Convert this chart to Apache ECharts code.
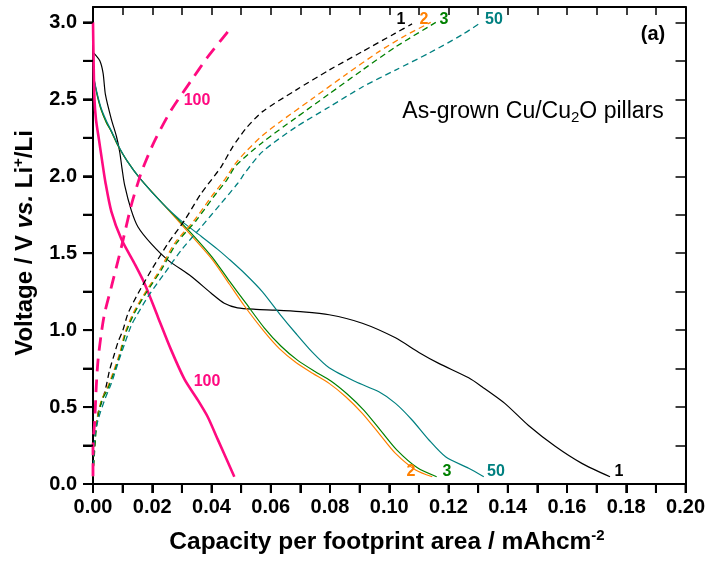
<!DOCTYPE html>
<html>
<head>
<meta charset="utf-8">
<script src="https://cdn.jsdelivr.net/npm/echarts@6/dist/echarts.min.js"></script>
<style>
html,body{margin:0;padding:0;background:#fff;}
#chart{width:708px;height:565px;}
</style>
</head>
<body>
<div id="chart"></div>
<script>
// ---- data (capacity mAh/cm2, voltage V) ----
const dis1 = [[0.0003,2.80],[0.0023,2.75],[0.0034,2.67],[0.0042,2.53],[0.0062,2.37],[0.0079,2.26],[0.009,2.16],[0.0098,2.05],[0.0107,1.94],[0.0129,1.78],[0.0152,1.67],[0.0197,1.56],[0.0253,1.455],[0.0331,1.35],[0.0399,1.24],[0.0443,1.175],[0.0488,1.145],[0.055,1.135],[0.0617,1.13],[0.07,1.12],[0.0797,1.10],[0.0909,1.045],[0.1021,0.95],[0.11,0.855],[0.1167,0.784],[0.1268,0.69],[0.1313,0.632],[0.139,0.524],[0.147,0.38],[0.156,0.245],[0.165,0.134],[0.1745,0.047]];
const dis2 = [[0.0005,2.61],[0.0015,2.52],[0.0028,2.43],[0.0045,2.35],[0.0062,2.29],[0.0084,2.20],[0.0115,2.10],[0.0157,1.99],[0.0236,1.82],[0.0292,1.70],[0.0348,1.58],[0.0404,1.455],[0.046,1.30],[0.051,1.16],[0.0578,0.99],[0.0629,0.88],[0.0685,0.79],[0.0741,0.72],[0.0797,0.654],[0.0853,0.567],[0.0909,0.459],[0.0965,0.329],[0.1021,0.199],[0.1089,0.091],[0.1145,0.047]];
const dis3 = [[0.0005,2.61],[0.0015,2.52],[0.0028,2.43],[0.0045,2.35],[0.0062,2.29],[0.0084,2.20],[0.0115,2.10],[0.0157,1.99],[0.0236,1.82],[0.0292,1.71],[0.0348,1.595],[0.0404,1.47],[0.046,1.32],[0.0516,1.175],[0.0578,1.015],[0.0635,0.895],[0.069,0.805],[0.0746,0.735],[0.0803,0.67],[0.0858,0.585],[0.0914,0.48],[0.097,0.35],[0.1026,0.22],[0.1095,0.105],[0.116,0.047]];
const dis50 = [[0.0005,2.62],[0.0015,2.53],[0.0028,2.44],[0.0045,2.36],[0.0062,2.295],[0.0084,2.205],[0.0115,2.10],[0.0157,1.99],[0.0236,1.82],[0.0298,1.71],[0.0365,1.61],[0.0421,1.525],[0.046,1.46],[0.0514,1.365],[0.0572,1.249],[0.0629,1.108],[0.0685,0.978],[0.0741,0.855],[0.0797,0.755],[0.0887,0.664],[0.0965,0.599],[0.1021,0.524],[0.1077,0.416],[0.1134,0.286],[0.119,0.177],[0.1268,0.102],[0.1319,0.047]];
const dis100 = [[0,3.0],[0.0002,2.75],[0.0005,2.5],[0.001,2.37],[0.002,2.24],[0.003,2.11],[0.0042,1.96],[0.0062,1.77],[0.0096,1.59],[0.014,1.433],[0.0174,1.303],[0.0219,1.086],[0.0264,0.87],[0.0309,0.68],[0.0354,0.545],[0.0387,0.437],[0.0421,0.29],[0.0477,0.047]];
const chg1 = [[0,0.05],[0.0003,0.2],[0.0008,0.33],[0.0017,0.46],[0.0034,0.56],[0.0045,0.64],[0.0056,0.74],[0.0073,0.85],[0.0084,0.92],[0.0101,1.0],[0.0118,1.108],[0.0152,1.238],[0.0197,1.39],[0.0253,1.563],[0.0309,1.714],[0.0365,1.888],[0.0432,2.06],[0.0471,2.19],[0.0516,2.31],[0.0572,2.42],[0.0685,2.56],[0.0797,2.69],[0.0909,2.81],[0.1021,2.93],[0.1077,2.99]];
const chg2 = [[0,0.05],[0.0004,0.2],[0.0011,0.39],[0.0028,0.545],[0.0045,0.61],[0.0067,0.72],[0.009,0.85],[0.0107,0.978],[0.0135,1.108],[0.0174,1.238],[0.0225,1.39],[0.0275,1.563],[0.0342,1.714],[0.0399,1.866],[0.0443,1.974],[0.048,2.08],[0.0516,2.16],[0.0572,2.265],[0.0629,2.35],[0.0741,2.505],[0.0853,2.66],[0.0965,2.81],[0.1055,2.915],[0.114,3.0]];
const chg3 = [[0,0.05],[0.0005,0.2],[0.0013,0.39],[0.003,0.545],[0.0048,0.61],[0.007,0.72],[0.0093,0.85],[0.011,0.978],[0.0139,1.108],[0.0178,1.238],[0.023,1.39],[0.0281,1.563],[0.0349,1.714],[0.0407,1.866],[0.0451,1.974],[0.0483,2.07],[0.0572,2.22],[0.0685,2.38],[0.0797,2.535],[0.0909,2.69],[0.1021,2.84],[0.1157,3.0]];
const chg50 = [[0,0.05],[0.0006,0.307],[0.0017,0.416],[0.0039,0.545],[0.0062,0.654],[0.0084,0.784],[0.0107,0.913],[0.0129,1.03],[0.0146,1.09],[0.0185,1.216],[0.0241,1.368],[0.0298,1.52],[0.0365,1.67],[0.0432,1.823],[0.0488,1.953],[0.0516,2.03],[0.0572,2.16],[0.0685,2.32],[0.0797,2.45],[0.0909,2.58],[0.1021,2.69],[0.1134,2.80],[0.1246,2.92],[0.131,3.0]];
const chg100 = [[0,0.05],[0,0.24],[0.0006,0.416],[0.0011,0.632],[0.0017,0.805],[0.0028,0.978],[0.0039,1.108],[0.0062,1.281],[0.0096,1.541],[0.0129,1.81],[0.0157,1.99],[0.0174,2.08],[0.0208,2.23],[0.0264,2.43],[0.0331,2.62],[0.0387,2.775],[0.0455,2.94],[0.0465,2.97]];
const cycleNames = ['1','2','3','50','100'];
const xTicks = [0,0.02,0.04,0.06,0.08,0.10,0.12,0.14,0.16,0.18,0.20];
const yTicks = [0.0,0.5,1.0,1.5,2.0,2.5,3.0];
const xTickMarks = [0,0.01,0.02,0.03,0.04,0.05,0.06,0.07,0.08,0.09,0.10,0.11,0.12,0.13,0.14,0.15,0.16,0.17,0.18,0.19,0.20];
const yTickMarks = [0,0.25,0.5,0.75,1.0,1.25,1.5,1.75,2.0,2.25,2.5,2.75,3.0];

const colors = {'1':'#000000','2':'#ff8000','3':'#008000','50':'#008080','100':'#ff0a80'};
const FF = '"Liberation Sans", Arial, sans-serif';

function dline(name, data, color, width){
  return {type:'line', name, data, showSymbol:false, smooth:0.25,
    lineStyle:{color, width, type:'solid'}, animation:false};
}
function cline(name, data, color, width, dash){
  return {type:'line', name, data, showSymbol:false, smooth:0.25,
    lineStyle:{color, width, type:dash}, animation:false};
}

const chart = echarts.init(document.getElementById('chart'), null, {renderer:'canvas'});
function ax(extra){
  return Object.assign({type:'value', splitLine:{show:false}, splitArea:{show:false},
    axisLine:{show:true, onZero:false, lineStyle:{color:'#000', width:2}}}, extra);
}
const xLabelFmt = function(v){const k=Math.round(v*100); return (k%2===0 && xTicks.indexOf(k/100)>=0)? (k/100).toFixed(2):'';};
const yLabelFmt = function(v){const k=Math.round(v*100); return (k%50===0 && yTicks.indexOf(k/100)>=0)? (k/100).toFixed(1):'';};
const tickStyle = {width:1.5, color:'#000'};
function txt(x, y, text, color){
  return {type:'text', x, y, z:100, style:{text, font:'bold 16px '+FF, fill:color, align:'center', verticalAlign:'middle'}};
}
const graphics = [
    {type:'text', x:25, y:243, rotation:Math.PI/2, style:{
      text:'{b|Voltage / V }{i|vs.}{b| Li}{s|+}{b|/Li}', align:'center', verticalAlign:'middle',
      rich:{b:{fontSize:24, fontWeight:'bold', fontFamily:FF, fill:'#000', lineHeight:28},
            i:{fontSize:24, fontWeight:'bold', fontStyle:'italic', fontFamily:FF, fill:'#000', lineHeight:28},
            s:{fontSize:15, fontWeight:'bold', fontFamily:FF, fill:'#000', lineHeight:28, verticalAlign:'top', padding:[0,0,12,0]}}}},
    {type:'text', x:387, y:542, style:{
      text:'{b|Capacity per footprint area / mAhcm}{s|-2}', align:'center', verticalAlign:'middle',
      rich:{b:{fontSize:24.5, fontWeight:'bold', fontFamily:FF, fill:'#000', lineHeight:28},
            s:{fontSize:15, fontWeight:'bold', fontFamily:FF, fill:'#000', lineHeight:28, padding:[0,0,12,0]}}}},
    {type:'text', x:653, y:34, style:{text:'(a)', font:'bold 20px '+FF, fill:'#000', align:'center', verticalAlign:'middle'}},
    {type:'text', x:533, y:112, style:{
      text:'{n|As-grown Cu/Cu}{s|2}{n|O pillars}', align:'center', verticalAlign:'middle',
      rich:{n:{fontSize:23, fontFamily:FF, fill:'#000', lineHeight:26},
            s:{fontSize:15, fontFamily:FF, fill:'#000', lineHeight:26, padding:[12,0,0,0]}}}},
    txt(401, 20, cycleNames[0], colors['1']),
    txt(424, 20, cycleNames[1], colors['2']),
    txt(444, 20, cycleNames[2], colors['3']),
    txt(494, 20, cycleNames[3], colors['50']),
    txt(411, 472, cycleNames[1], colors['2']),
    txt(447, 472, cycleNames[2], colors['3']),
    txt(496, 472, cycleNames[3], colors['50']),
    txt(619, 472, cycleNames[0], colors['1']),
    txt(207, 382, cycleNames[4], colors['100']),
    txt(197, 101, cycleNames[4], colors['100'])
];
const option = {
  animation:false,
  backgroundColor:'#fff',
  grid:{left:93, right:21, top:7, bottom:81, containLabel:false},
  xAxis:[
    ax({position:'bottom', min:0, max:0.2, interval:0.01,
      axisTick:{show:true, inside:false, length:9, lineStyle:{width:2, color:'#000'}},
      axisLabel:{show:true, margin:13, color:'#000', fontSize:20, fontWeight:'bold', fontFamily:FF, formatter:xLabelFmt}}),
    ax({position:'top', min:0, max:0.2, interval:0.01,
      axisTick:{show:true, inside:true, length:8, lineStyle:tickStyle}, axisLabel:{show:false}})
  ],
  yAxis:[
    ax({position:'left', min:0, max:3.1, interval:0.25,
      axisTick:{show:true, inside:false, length:10, lineStyle:{width:2, color:'#000'}},
      axisLabel:{show:true, margin:16, color:'#000', fontSize:20, fontWeight:'bold', fontFamily:FF, showMaxLabel:false, formatter:yLabelFmt}}),
    ax({position:'right', min:0, max:3.1, interval:0.25,
      axisTick:{show:true, inside:true, length:10, lineStyle:tickStyle}, axisLabel:{show:false}})
  ],
  series:[
    dline('dis1', dis1, colors['1'], 1.2),
    dline('dis2', dis2, colors['2'], 1.2),
    dline('dis3', dis3, colors['3'], 1.2),
    dline('dis50', dis50, colors['50'], 1.2),
    dline('dis100', dis100, colors['100'], 2.6),
    cline('chg1', chg1, colors['1'], 1.3, [6,4]),
    cline('chg2', chg2, colors['2'], 1.3, [6,4]),
    cline('chg3', chg3, colors['3'], 1.3, [6,4]),
    cline('chg50', chg50, colors['50'], 1.3, [6,4]),
    cline('chg100', chg100, colors['100'], 2.8, [13,8])
  ],
  graphic: graphics
};
chart.setOption(option);

// extra outward tick marks on the bottom and left axes, placed through the axes' own scales
const tickGraphics = [];
const y0 = chart.convertToPixel({yAxisIndex:0}, 0);
const x0 = chart.convertToPixel({xAxisIndex:0}, 0);
xTickMarks.forEach(function(v){
  const px = chart.convertToPixel({xAxisIndex:0}, v);
  tickGraphics.push({type:'rect', z:100, shape:{x:px-1, y:y0, width:2, height:9}, style:{fill:'#000'}});
});
yTickMarks.forEach(function(v){
  const py = chart.convertToPixel({yAxisIndex:0}, v);
  tickGraphics.push({type:'rect', z:100, shape:{x:x0-10, y:py-1, width:10, height:2}, style:{fill:'#000'}});
});
chart.setOption({graphic: graphics.concat(tickGraphics)});
</script>
</body>
</html>
